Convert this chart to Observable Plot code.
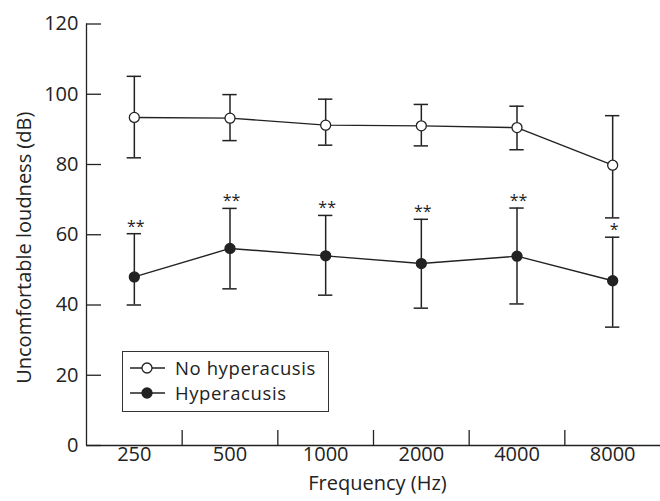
<!DOCTYPE html>
<html>
<head>
<meta charset="utf-8">
<script src="https://cdn.jsdelivr.net/npm/d3@7"></script>
<script src="https://cdn.jsdelivr.net/npm/@observablehq/plot@0.6"></script>
<style>
  body { margin: 0; background: #fff; }
  #wrap { position: relative; width: 660px; height: 501px; font-family: "Open Sans", sans-serif; color: #222; }
  #legend { position: absolute; left: 122px; top: 351px; width: 207px; height: 61px; border: 1px solid #333; background: #fff; box-sizing: border-box; }
  .entry { position: absolute; left: 6px; height: 20px; display: flex; align-items: center; font-size: 18.5px; line-height: 20px; white-space: nowrap; letter-spacing: 0.6px; }
  .entry span { margin-left: 9px; }
</style>
</head>
<body>
<div id="wrap"></div>
<script>
const categories = ["250", "500", "1000", "2000", "4000", "8000"];
const noHypMean  = [93.4, 93.2, 91.2, 91.0, 90.5, 79.8];
const noHypUpper = [105.1, 99.9, 98.6, 97.1, 96.6, 93.9];
const noHypLower = [81.9, 86.8, 85.5, 85.3, 84.2, 64.8];
const hypMean    = [48.0, 56.1, 54.0, 51.8, 53.9, 46.9];
const hypUpper   = [60.3, 67.5, 65.5, 64.4, 67.6, 59.3];
const hypLower   = [40.0, 44.6, 42.8, 39.1, 40.3, 33.7];
const significance = ["**", "**", "**", "**", "**", "*"];
const yTicks = [0, 20, 40, 60, 80, 100, 120];

const idx = categories.map((_, i) => i);
const noHyp = idx.map(i => ({i, mean: noHypMean[i], lo: noHypLower[i], hi: noHypUpper[i]}));
const hyp = idx.map(i => ({i, mean: hypMean[i], lo: hypLower[i], hi: hypUpper[i], sig: significance[i]}));
const separators = idx.slice(1).map(i => i - 0.5);
const capHalf = 0.075;
const ink = "#222";
const fs = 20;

const W = 660, H = 501, mL = 86, mR = 0, mT = 23.5, mB = 56;
const plotW = W - mL - mR, plotH = H - mT - mB;

const chart = Plot.plot({
  width: W, height: H,
  marginLeft: mL, marginRight: mR, marginTop: mT, marginBottom: mB,
  style: {fontFamily: "'Open Sans', sans-serif", fontSize: fs + "px", color: ink, background: "#fff"},
  x: {type: "linear", domain: [-0.5, categories.length - 0.5], axis: null},
  y: {domain: [0, 120], axis: null},
  marks: [
    // axes lines
    Plot.ruleY([0], {stroke: ink, strokeWidth: 1.3}),
    Plot.ruleX([-0.5], {stroke: ink, strokeWidth: 1.3}),
    // inward y ticks
    Plot.ruleY(yTicks, {y: d => d, stroke: ink, strokeWidth: 1.3, insetRight: plotW - 15}),
    Plot.text(yTicks, {y: d => d, frameAnchor: "left", textAnchor: "end", dx: -8, text: d => String(d), fill: ink, fontSize: fs}),
    // x separators
    Plot.ruleX(separators, {x: d => d, stroke: ink, strokeWidth: 1.3, insetTop: plotH - 15}),
    Plot.text(idx, {x: d => d, frameAnchor: "bottom", dy: 15, text: d => categories[d], fill: ink, fontSize: fs}),
    // axis labels
    Plot.text(["Frequency (Hz)"], {frameAnchor: "bottom", dy: 44, dx: 4, fill: ink, fontSize: fs}),
    Plot.text(["Uncomfortable loudness (dB)"], {frameAnchor: "left", textAnchor: "middle", y: 56.3, dx: -62, rotate: -90, fill: ink, fontSize: fs}),
    // lines
    Plot.line(noHyp, {x: "i", y: "mean", stroke: ink, strokeWidth: 1.4}),
    Plot.line(hyp, {x: "i", y: "mean", stroke: ink, strokeWidth: 1.4}),
    // error bars
    Plot.ruleX(noHyp, {x: "i", y1: "lo", y2: "hi", stroke: ink, strokeWidth: 1.5}),
    Plot.ruleY(noHyp, {y: "hi", x1: d => d.i - capHalf, x2: d => d.i + capHalf, stroke: ink, strokeWidth: 1.5}),
    Plot.ruleY(noHyp, {y: "lo", x1: d => d.i - capHalf, x2: d => d.i + capHalf, stroke: ink, strokeWidth: 1.5}),
    Plot.ruleX(hyp, {x: "i", y1: "lo", y2: "hi", stroke: ink, strokeWidth: 1.5}),
    Plot.ruleY(hyp, {y: "hi", x1: d => d.i - capHalf, x2: d => d.i + capHalf, stroke: ink, strokeWidth: 1.5}),
    Plot.ruleY(hyp, {y: "lo", x1: d => d.i - capHalf, x2: d => d.i + capHalf, stroke: ink, strokeWidth: 1.5}),
    // markers
    Plot.dot(noHyp, {x: "i", y: "mean", r: 5, fill: "#fff", stroke: ink, strokeWidth: 1.3}),
    Plot.dot(hyp, {x: "i", y: "mean", r: 5, fill: ink, stroke: ink, strokeWidth: 1.3}),
    // significance
    Plot.text(hyp, {x: "i", y: "hi", text: "sig", lineAnchor: "bottom", dy: -2, fill: ink, fontSize: 16, letterSpacing: "3px", dx: 1.5})
  ]
});

const wrap = document.getElementById("wrap");
wrap.appendChild(chart);

const legend = document.createElement("div");
legend.id = "legend";
const entries = [
  {label: "No hyperacusis", fill: "#fff"},
  {label: "Hyperacusis", fill: ink}
];
entries.forEach((e, k) => {
  const row = document.createElement("div");
  row.className = "entry";
  row.style.top = (5.5 + k * 25.3) + "px";
  row.innerHTML = `<svg width="37" height="14"><line x1="1" x2="36" y1="7" y2="7" stroke="${ink}" stroke-width="1.5"/><circle cx="18" cy="7" r="5" fill="${e.fill}" stroke="${ink}" stroke-width="1.3"/></svg><span>${e.label}</span>`;
  legend.appendChild(row);
});
wrap.appendChild(legend);
</script>
</body>
</html>
